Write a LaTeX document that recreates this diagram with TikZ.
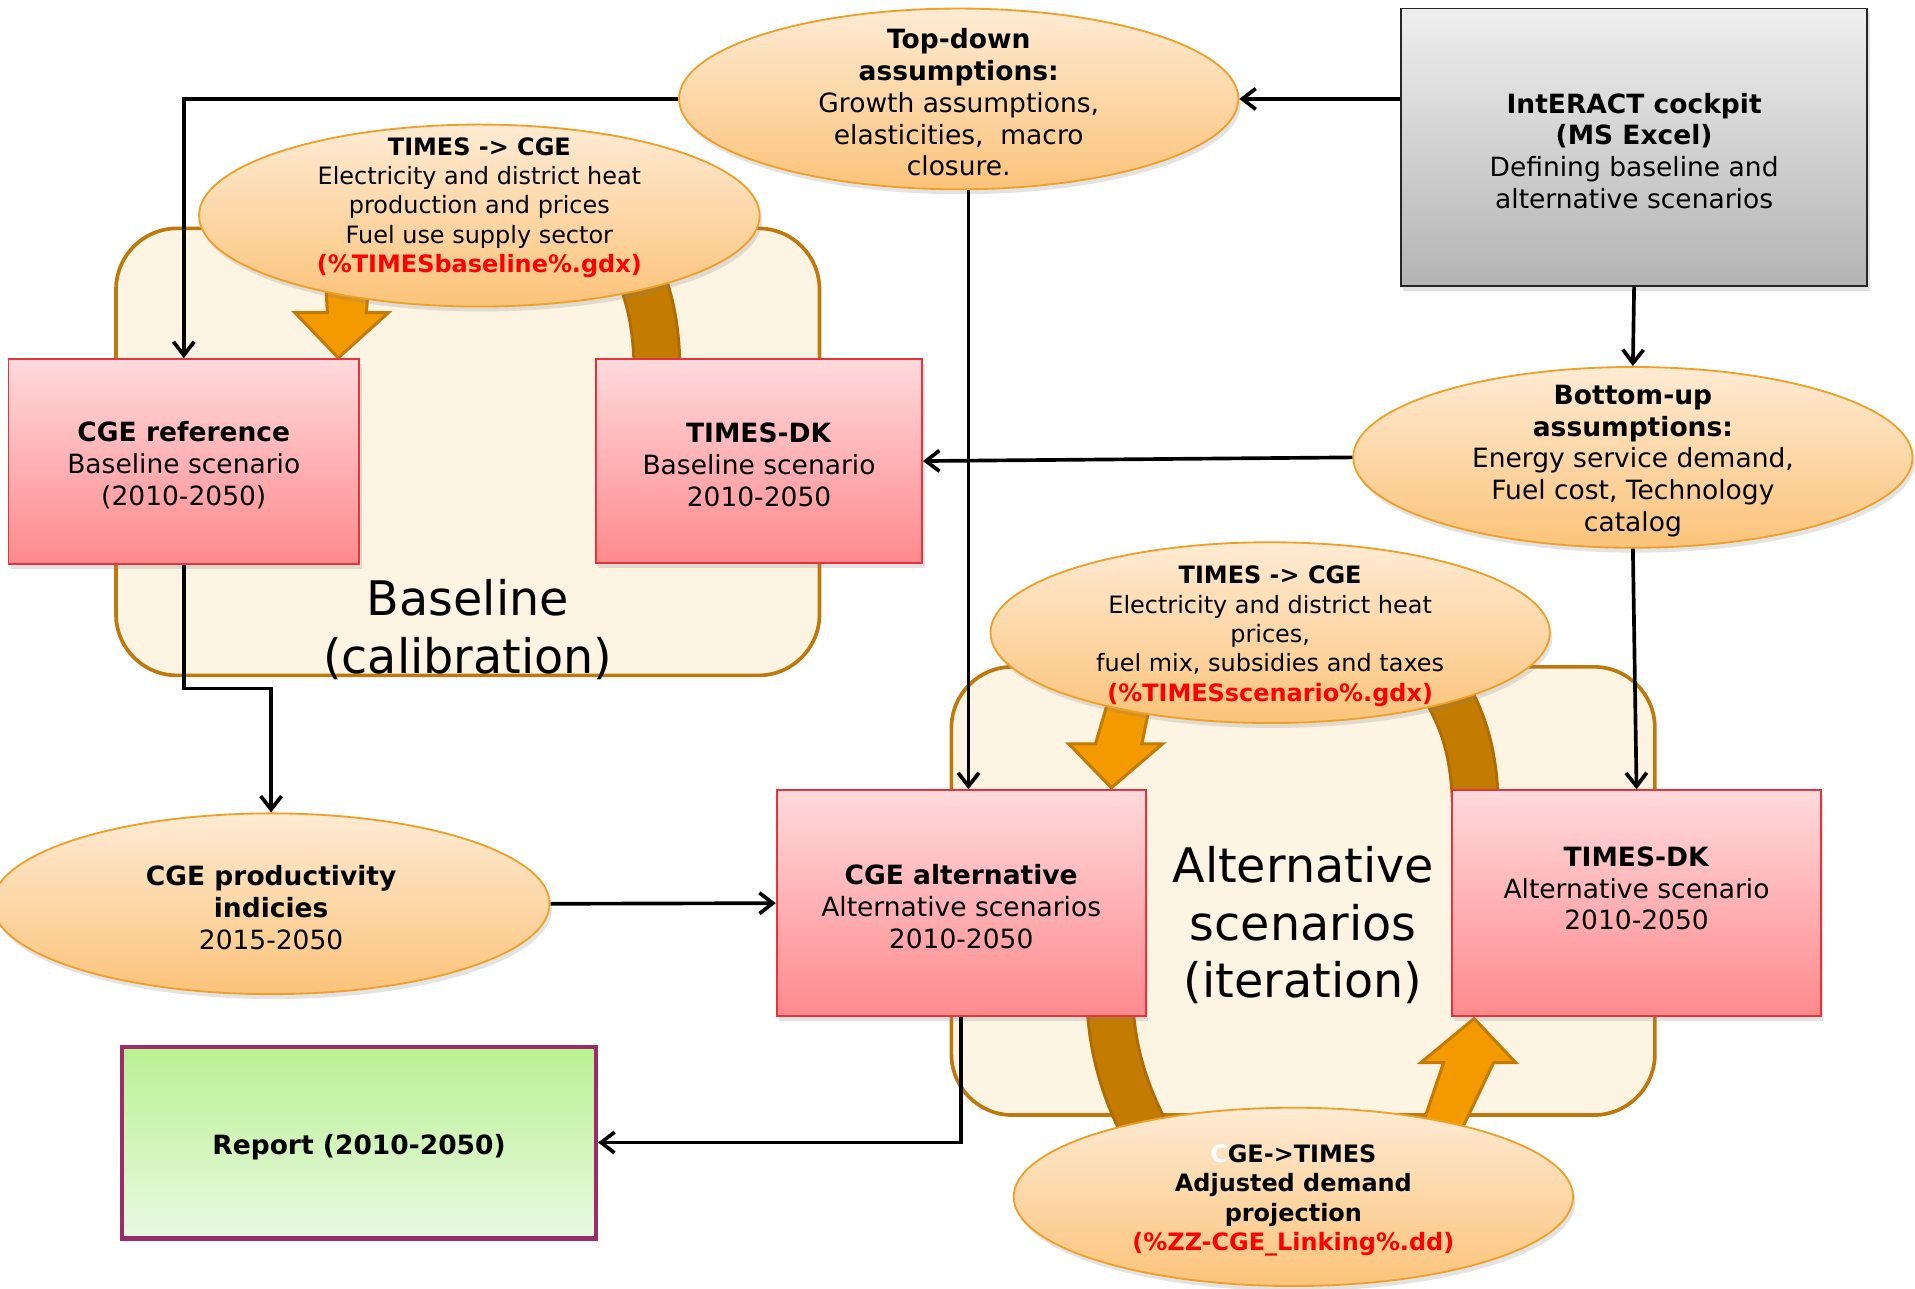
\documentclass[tikz,border=0pt]{standalone}
\usepackage{fontspec}
\setmainfont{DejaVu Sans}
\usetikzlibrary{shapes.geometric,shadows,arrows.meta,calc}
\definecolor{elltop}{HTML}{FEEBD4}
\definecolor{ellbot}{HTML}{FCC37A}
\definecolor{elledge}{HTML}{F0A028}
\definecolor{zonefill}{HTML}{FDF4E4}
\definecolor{zoneedge}{HTML}{BF780E}
\definecolor{arrfill}{HTML}{F29A00}
\definecolor{arredge}{HTML}{C47A00}
\definecolor{bandfill}{HTML}{C47C00}
\definecolor{bandedge}{HTML}{B06C00}
\definecolor{pinktop}{HTML}{FFDADC}
\definecolor{pinkbot}{HTML}{FF898D}
\definecolor{pinkedge}{HTML}{E8323C}
\definecolor{greytop}{HTML}{EFEFEF}
\definecolor{greybot}{HTML}{B4B4B4}
\definecolor{greentop}{HTML}{B9F293}
\definecolor{greenbot}{HTML}{EAF9E2}
\definecolor{reportedge}{HTML}{9C2C68}
\definecolor{linkred}{HTML}{FF0000}
\newcommand\fntS{\fontsize{19.6}{24}\selectfont}
\newcommand\fntM{\fontsize{21.7}{26}\selectfont}
\newcommand\fntL{\fontsize{39}{47}\selectfont}
\tikzset{
  softshadow/.style={drop shadow={opacity=0.22, shadow xshift=2pt, shadow yshift=-4pt}},
  ell/.style={ellipse, draw=elledge, line width=1.5pt, top color=elltop, bottom color=ellbot, inner sep=0pt, softshadow},
  zone/.style={rectangle, rounded corners=50pt, draw=zoneedge, line width=3pt, fill=zonefill, inner sep=0pt},
  pinkbox/.style={rectangle, draw=pinkedge, line width=1.5pt, top color=pinktop, bottom color=pinkbot, inner sep=0pt, softshadow},
  greybox/.style={rectangle, draw=black!85, line width=1.5pt, top color=greytop, bottom color=greybot, inner sep=0pt, softshadow},
  greenbox/.style={rectangle, draw=reportedge, line width=3.5pt, top color=greentop, bottom color=greenbot, inner sep=0pt},
  txtS/.style={align=center, inner sep=0pt, font=\fntS, yshift=-3pt},
  txtM/.style={align=center, inner sep=0pt, font=\fntM, yshift=-3pt},
  txtL/.style={align=center, inner sep=0pt, font=\fntL, yshift=-2pt},
  conn/.style={draw=black, line width=3pt, -{Straight Barb[length=11pt,width=17pt]}},
  bandout/.style={draw=bandedge, line width=40pt},
  bandin/.style={draw=bandfill, line width=35pt},
  blockarrow/.style={fill=arrfill, draw=arredge, line width=2.5pt, line join=miter}
}
\begin{document}
\begin{tikzpicture}[x=1pt,y=-1pt]
\useasboundingbox (0,0) rectangle (1568,1055);
\fill[white] (0,0) rectangle (1568,1055);

% zones
\node[zone, minimum width=576pt, minimum height=366pt] (basezone) at (383,370) {};
\node[zone, minimum width=576pt, minimum height=367pt] (altzone) at (1067,729.5) {};

% curved bands
\draw[bandout] (538,300) .. controls (537,260) and (530,232) .. (512,200);
\draw[bandin]  (538,300) .. controls (537,260) and (530,232) .. (512,200);
\draw[bandout] (1208,655) .. controls (1206,610) and (1196,580) .. (1170,545);
\draw[bandin]  (1208,655) .. controls (1206,610) and (1196,580) .. (1170,545);
\draw[bandout] (909,826) .. controls (912,870) and (925,905) .. (948,945);
\draw[bandin]  (909,826) .. controls (912,870) and (925,905) .. (948,945);

% block arrows
\filldraw[blockarrow] (266,215) -- (268,256) -- (241.5,256) -- (277,293) -- (318,256) -- (300,256) -- (303,215) -- cycle;
\filldraw[blockarrow] (910,565) -- (897,609) -- (875,609) -- (910,645) -- (952,609) -- (935,609) -- (944,565) -- cycle;
\filldraw[blockarrow] (1160,935) -- (1182,870) -- (1163.5,870) -- (1207,834) -- (1241,870) -- (1223,870) -- (1192,935) -- cycle;

% boxes
\node[greybox, minimum width=382pt, minimum height=227pt] (cockpit) at (1338,120.5) {};
\node[txtM] at (cockpit.center) {\textbf{IntERACT cockpit}\\\textbf{(MS Excel)}\\Defining baseline and\\alternative scenarios};
\node[pinkbox, minimum width=287pt, minimum height=168pt] (cgeref) at (150.5,378) {};
\node[txtM] at (cgeref.center) {\textbf{CGE reference}\\Baseline scenario\\(2010-2050)};
\node[pinkbox, minimum width=267pt, minimum height=167pt] (timesb) at (621.5,377.5) {};
\node[txtM] at (timesb.center) {\textbf{TIMES-DK}\\Baseline scenario\\2010-2050};
\node[pinkbox, minimum width=302pt, minimum height=185pt] (cgealt) at (787,739.5) {};
\node[txtM] at (cgealt.center) {\textbf{CGE alternative}\\Alternative scenarios\\2010-2050};
\node[pinkbox, minimum width=302pt, minimum height=185pt] (timesa) at (1340,739.5) {};
\node[txtM] at ($(timesa.center)+(0,-15)$) {\textbf{TIMES-DK}\\Alternative scenario\\2010-2050};
\node[greenbox, minimum width=388pt, minimum height=157pt] (report) at (294,935.5) {};
\node[txtM] at ($(report.center)+(0,1)$) {\textbf{Report (2010-2050)}};

% ellipses
\node[ell, minimum width=458pt, minimum height=148pt] (tdE) at (785,81) {};
\node[txtM] at (tdE.center) {\textbf{Top-down}\\\textbf{assumptions:}\\Growth assumptions,\\elasticities,~~macro\\closure.};
\node[ell, minimum width=459pt, minimum height=149pt] (tcb) at (392.5,176.5) {};
\node[txtS] at ($(tcb.center)+(0,-9.5)$) {\textbf{TIMES -> CGE}\\Electricity and district heat\\production and prices\\Fuel use supply sector\\\textcolor{linkred}{\textbf{(\%TIMESbaseline\%.gdx)}}};
\node[ell, minimum width=458pt, minimum height=148pt] (buE) at (1337,374.5) {};
\node[txtM] at (buE.center) {\textbf{Bottom-up}\\\textbf{assumptions:}\\Energy service demand,\\Fuel cost, Technology\\catalog};
\node[ell, minimum width=458pt, minimum height=148pt] (tca) at (1040,518) {};
\node[txtS] at (tca.center) {\textbf{TIMES -> CGE}\\Electricity and district heat\\prices,\\fuel mix, subsidies and taxes\\\textcolor{linkred}{\textbf{(\%TIMESscenario\%.gdx)}}};
\node[ell, minimum width=456pt, minimum height=148pt] (prodE) at (222,740) {};
\node[txtM] at (prodE.center) {\textbf{CGE productivity}\\\textbf{indicies}\\2015-2050};
\node[ell, minimum width=458pt, minimum height=146pt] (ctE) at (1059,980) {};
\node[txtS] at (ctE.center) {\textbf{\textcolor{white}{C}GE->TIMES}\\\textbf{Adjusted demand}\\\textbf{projection}\\\textcolor{linkred}{\textbf{(\%ZZ-CGE\_Linking\%.dd)}}};

% zone titles
\node[txtL] (basetitle) at (383,513.5) {Baseline\\(calibration)};
\node[txtL] (alttitle) at (1067,755.5) {Alternative\\scenarios\\(iteration)};

% connectors
\draw[conn] (tdE.west) -| (cgeref.north);
\draw[conn] (cockpit.west |- tdE.east) -- (tdE.east);
\coordinate (tdout) at ($(tdE.south)+(8,0)$);
\draw[conn] (tdout) -- (tdout |- cgealt.north);
\draw[conn] (cockpit.south) -- (buE.north);
\draw[conn] (buE.west) -- (timesb.east);
\draw[conn] (buE.south) -- (timesa.north);
\draw[conn] (cgeref.south) -- ++(0,101) -| (prodE.north);
\draw[conn] (prodE.east) -- (cgealt.west);
\draw[conn] (cgealt.south) |- (report.east);
\end{tikzpicture}
\end{document}
